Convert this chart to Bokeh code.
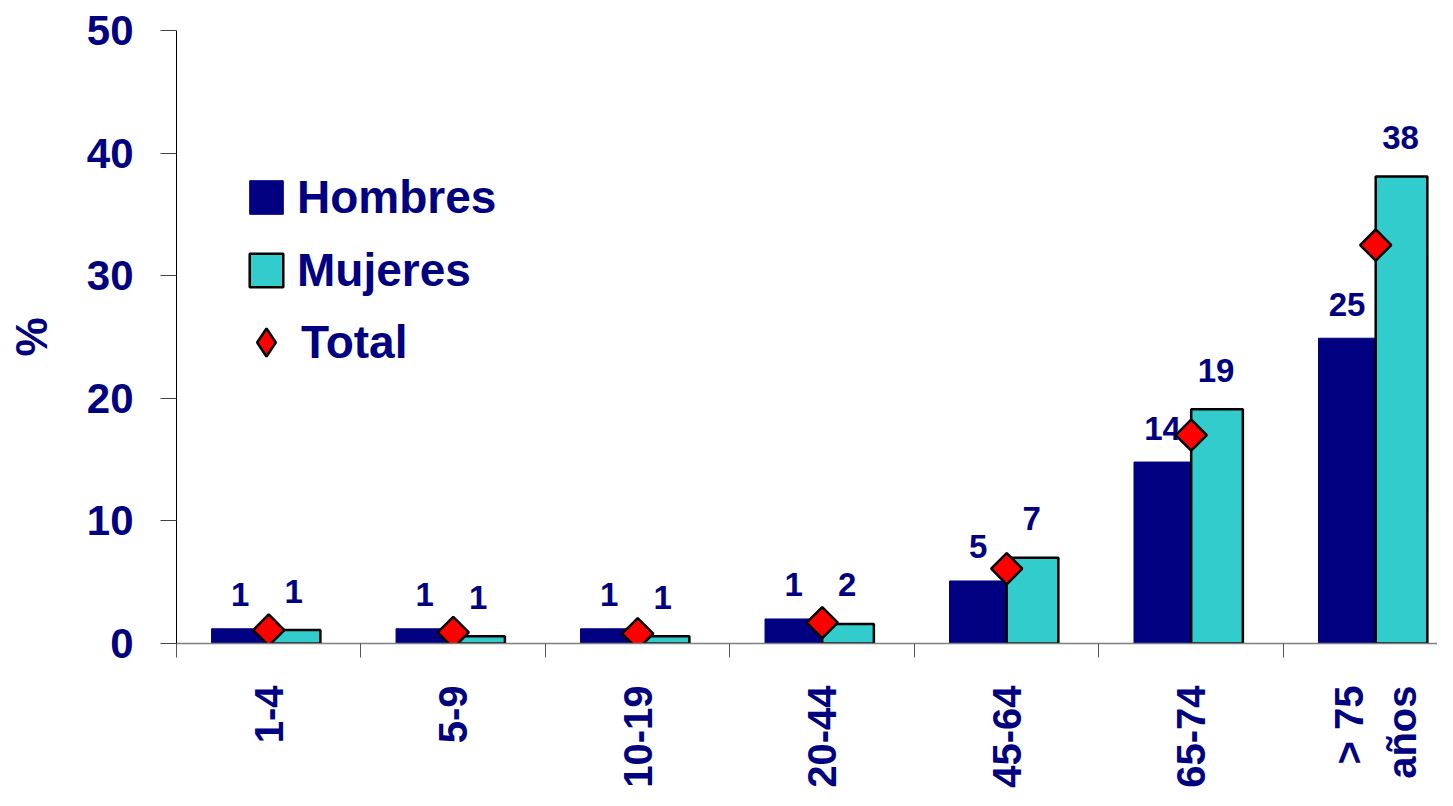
import math
from bokeh.plotting import figure
from bokeh.models import Range1d, FixedTicker, Legend, LegendItem, ColumnDataSource
from bokeh.transform import dodge
from bokeh.core.properties import value
from bokeh.embed import file_html
from bokeh.resources import INLINE

# ---- data ----
categories = ["1-4", "5-9", "10-19", "20-44", "45-64", "65-74", "> 75\naños"]
hombres = [1.2, 1.2, 1.2, 2.0, 5.1, 14.8, 24.9]
mujeres = [1.1, 0.6, 0.6, 1.6, 7.0, 19.1, 38.1]
total = [1.1, 0.9, 0.8, 1.7, 6.1, 17.0, 32.5]
hombres_labels = ["1", "1", "1", "1", "5", "14", "25"]
mujeres_labels = ["1", "1", "1", "2", "7", "19", "38"]
y_ticks = [0, 10, 20, 30, 40, 50]

NAVY = "#000080"
TEAL = "#33CCCC"
RED = "#FF0000"
FONT = value("Liberation Sans")

src = ColumnDataSource(dict(
    idx=list(range(len(categories))),
    hombres=hombres, mujeres=mujeres, total=total,
    h_lab=hombres_labels, m_lab=mujeres_labels,
))

p = figure(width=1437, height=790, x_range=Range1d(-0.5, 6.335), y_range=Range1d(0, 50),
           output_backend="svg", toolbar_location=None,
           min_border_left=176, min_border_top=30, min_border_bottom=144, min_border_right=0)
p.xgrid.visible = False
p.ygrid.visible = False
p.outline_line_color = None
p.background_fill_color = "white"

r_h = p.vbar(x=dodge("idx", -0.155, range=p.x_range), top="hombres", bottom=0, width=0.31,
             source=src, fill_color=NAVY, line_color=NAVY, line_width=1)
r_m = p.vbar(x=dodge("idx", 0.14, range=p.x_range), top="mujeres", bottom=0, width=0.28,
             source=src, fill_color=TEAL, line_color="black", line_width=2.5)

lab_kw = dict(source=src, text_align="center", text_baseline="middle", text_font=FONT,
              text_font_style="bold", text_font_size="33px", text_color=NAVY)
p.text(x=dodge("idx", -0.155, range=p.x_range), y="hombres", text="h_lab", y_offset=-34, **lab_kw)
p.text(x=dodge("idx", 0.135, range=p.x_range), y="mujeres", text="m_lab", y_offset=-39, **lab_kw)

r_t = p.scatter(x="idx", y="total", source=src, marker="square", angle=math.pi / 4, size=22,
                fill_color=RED, line_color="black", line_width=2.5)
# legend-only swatch for the Total series (diamond shape), hidden on the plot
r_t_leg = p.scatter(x="idx", y="total", source=src, marker="diamond", fill_color=RED,
                    line_color="black", line_width=2.5, visible=False)

# ---- axes ----
xa = p.xaxis[0]
xa.ticker = FixedTicker(ticks=list(range(len(categories))),
                        minor_ticks=[i - 0.5 for i in range(len(categories) + 1)])
xa.major_label_overrides = {i: c for i, c in enumerate(categories)}
xa.major_tick_line_color = None
xa.major_tick_out = 14
xa.major_tick_in = 0
xa.minor_tick_out = 14
xa.minor_tick_in = 0
xa.minor_tick_line_color = "#555555"
xa.axis_line_color = "#808080"
xa.axis_line_width = 1.5
xa.major_label_orientation = math.pi / 2
xa.major_label_standoff = 28
xa.major_label_text_font = "Liberation Sans"
xa.major_label_text_font_style = "bold"
xa.major_label_text_font_size = "40px"
xa.major_label_text_color = NAVY

ya = p.yaxis[0]
ya.ticker = FixedTicker(ticks=y_ticks, minor_ticks=[])
ya.axis_line_color = "black"
ya.axis_line_width = 1
ya.major_tick_out = 16
ya.major_tick_in = 0
ya.major_tick_line_color = "#444444"
ya.minor_tick_line_color = None
ya.major_label_standoff = 27
ya.major_label_text_font = "Liberation Sans"
ya.major_label_text_font_style = "bold"
ya.major_label_text_font_size = "42px"
ya.major_label_text_color = NAVY
ya.axis_label = "%"
ya.axis_label_standoff = 28
ya.axis_label_text_font = "Liberation Sans"
ya.axis_label_text_font_style = "bold"
ya.axis_label_text_font_size = "44px"
ya.axis_label_text_color = NAVY

# ---- legends ----
leg_kw = dict(border_line_color=None, background_fill_alpha=0, padding=0, margin=0,
              label_text_font="Liberation Sans", label_text_font_style="bold",
              label_text_font_size="46px", label_text_color=NAVY,
              inactive_fill_alpha=0)
leg_a = Legend(items=[LegendItem(label="Hombres", renderers=[r_h]),
                      LegendItem(label="Mujeres", renderers=[r_m])],
               location=(69, 346), glyph_width=42, glyph_height=42, spacing=19,
               label_standoff=10, **leg_kw)
leg_b = Legend(items=[LegendItem(label="Total", renderers=[r_t_leg])],
               location=(55, 266), glyph_width=70, glyph_height=70,
               label_standoff=0, **leg_kw)
p.add_layout(leg_a)
p.add_layout(leg_b)

open("out.html", "w").write(file_html(p, INLINE))
